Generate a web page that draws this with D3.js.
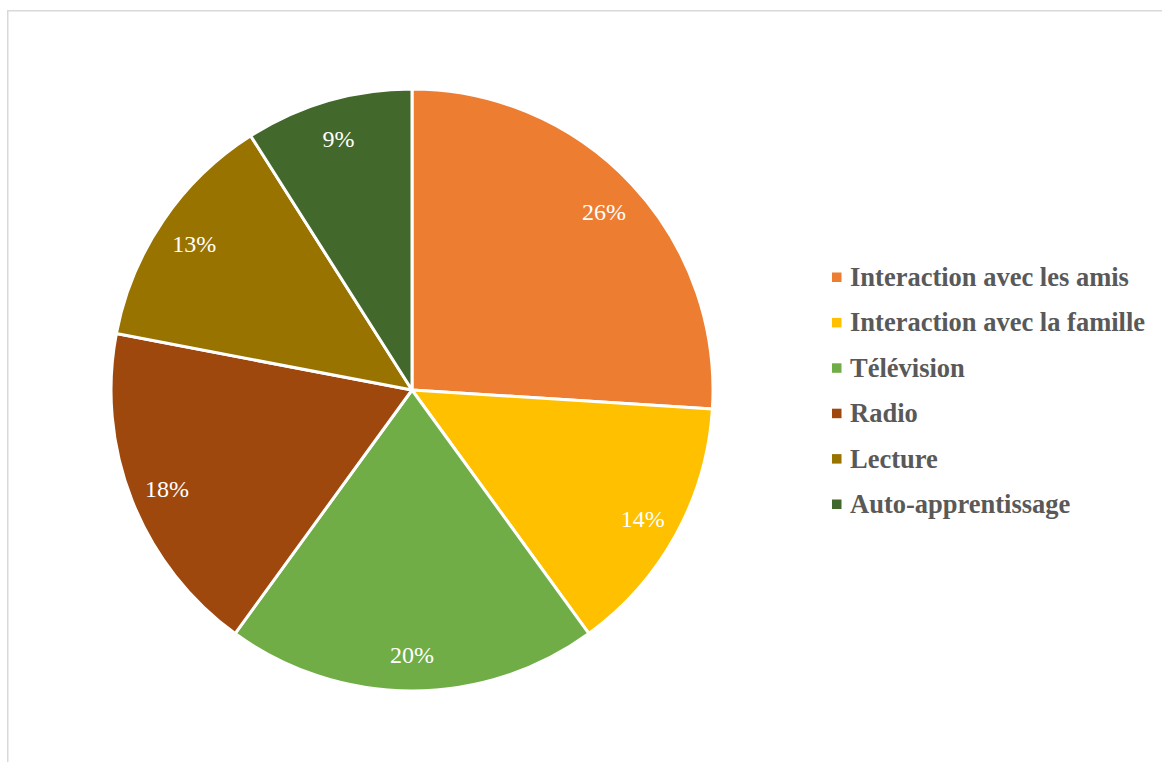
<!DOCTYPE html>
<html><head><meta charset="utf-8">
<script src="https://cdn.jsdelivr.net/npm/d3@7"></script>
<style>html,body{margin:0;padding:0;background:#fff;}svg{display:block;}</style>
</head><body>
<svg id="c" width="1162" height="762"></svg>
<script>
const categories = ["Interaction avec les amis","Interaction avec la famille","Télévision","Radio","Lecture","Auto-apprentissage"];
const values = [26,14,20,18,13,9];
const colors = ["#ED7D31","#FFC000","#70AD47","#9E480E","#997300","#43682B"];

const svg = d3.select("#c");
svg.append("rect").attr("x",7.75).attr("y",10.75).attr("width",1170).attr("height",770)
  .attr("fill","none").attr("stroke","#d9d9d9").attr("stroke-width",1.5);

const cx = 412, cy = 390, r = 301;
const data = categories.map((c,i)=>({c, v:values[i], col:colors[i]}));
const pie = d3.pie().value(d=>d.v).sort(null);
const arc = d3.arc().innerRadius(0).outerRadius(r);
const labelArc = d3.arc().innerRadius(r*0.875).outerRadius(r*0.875);
const g = svg.append("g").attr("transform",`translate(${cx},${cy})`);
const arcs = pie(data);
g.selectAll("path").data(arcs).join("path")
  .attr("d",arc).attr("fill",d=>d.data.col).attr("stroke","#fff").attr("stroke-width",3).attr("stroke-linejoin","round");
g.selectAll("text").data(arcs).join("text")
  .attr("transform",d=>{const p=labelArc.centroid(d);return `translate(${p[0]},${p[1]+2})`;})
  .attr("text-anchor","middle").attr("dominant-baseline","central")
  .attr("font-family","'Liberation Serif','Times New Roman',serif").attr("font-size",24)
  .attr("fill","#fff").text(d=>d.data.v+"%");

const legY = d3.scalePoint().domain(categories).range([277,504]);
const leg = svg.append("g");
const li = leg.selectAll("g").data(data).join("g").attr("transform",d=>`translate(832,${legY(d.c)})`);
li.append("rect").attr("x",0).attr("y",-4.5).attr("width",9.5).attr("height",9.5).attr("fill",d=>d.col);
li.append("text").attr("x",18).attr("y",0).attr("dominant-baseline","central")
  .attr("font-family","'Liberation Serif','Times New Roman',serif").attr("font-weight","bold").attr("font-size",26.5)
  .attr("fill","#595959").text(d=>d.c);
</script>
</body></html>
